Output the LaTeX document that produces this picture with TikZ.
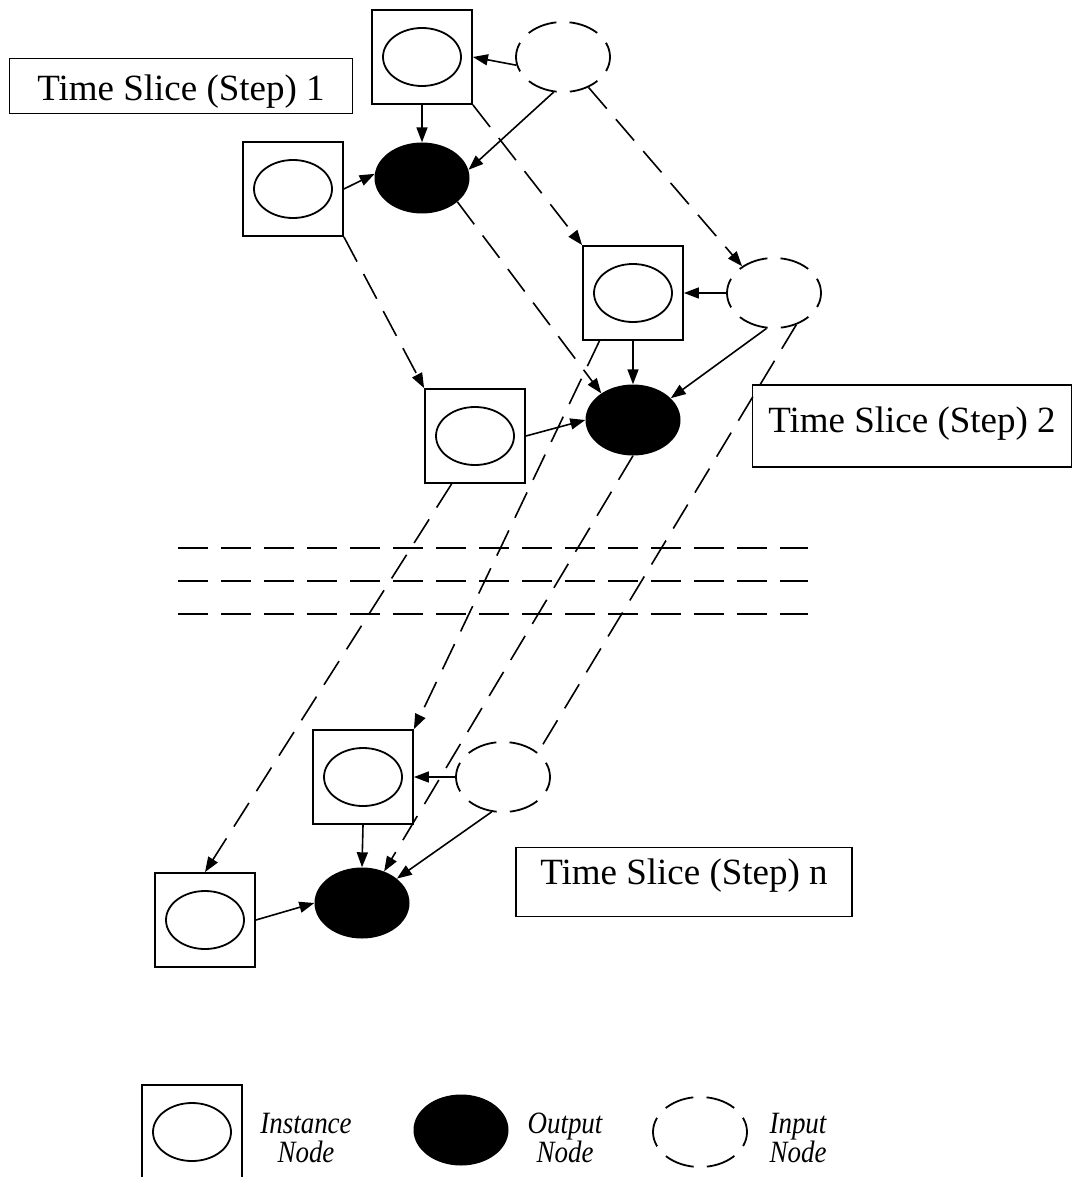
\documentclass[tikz,border=0pt]{standalone}
\usepackage{fontspec}
\setmainfont{Liberation Serif}
\newfontfamily\keyfont[FakeStretch=0.87]{Liberation Serif}
\usetikzlibrary{arrows.meta}
\usetikzlibrary{shapes.geometric}

\begin{document}
\begin{tikzpicture}[x=1pt, y=-1pt, >={Triangle[length=15pt,width=11pt]},
  inst/.style={draw, line width=1.8pt, minimum width=100pt, minimum height=94pt, inner sep=0,
    path picture={\draw[line width=1.8pt] (path picture bounding box.center) ellipse (39pt and 29pt);}},
  outp/.style={ellipse, fill=black, minimum width=95pt, minimum height=71pt, inner sep=0},
  inp/.style={ellipse, draw, line width=1.8pt, dash pattern=on 30pt off 13.2pt, dash phase=15pt,
    minimum width=94pt, minimum height=70pt, inner sep=0},
  slicebox/.style={draw, line width=1.8pt, inner sep=0, font=\fontsize{37}{44}\selectfont},
  legtext/.style={font=\keyfont\fontsize{31}{29}\selectfont\itshape, align=center},
  link/.style={->, line width=1.6pt},
  jump/.style={link, dash pattern=on 28pt off 14pt},
  cutline/.style={line width=1.8pt, dash pattern=on 30pt off 13pt}]
\useasboundingbox (0,0) rectangle (1082,1177);

\node[inst] (insA1) at (422,57) {};
\node[inp] (inp1) at (563,57) {};
\node[outp] (out1) at (422,178) {};
\node[inst] (insB1) at (293,189) {};
\node[slicebox, minimum width=343pt, minimum height=55pt, text height=35pt, text depth=6pt] (slice1) at (181,86) {Time Slice (Step) 1};

\node[inst] (insA2) at (633,293) {};
\node[inp] (inp2) at (774,293) {};
\node[outp] (out2) at (633,420) {};
\node[inst] (insB2) at (475,436) {};
\node[slicebox, minimum width=319pt, minimum height=82pt, text height=25pt, text depth=13pt] (slice2) at (912,426) {Time Slice (Step) 2};

\node[inst] (insAn) at (363,777) {};
\node[inp] (inpn) at (503,777) {};
\node[outp] (outn) at (362,903) {};
\node[inst] (insBn) at (205,920) {};
\node[slicebox, minimum width=336pt, minimum height=69pt, text height=25pt, text depth=20pt] (slicen) at (684,882) {Time Slice (Step) n};

\draw[link] (inp1.190) -- (insA1.east);
\draw[link] (insA1.south) -- (out1.north);
\draw[link] (insB1.east) -- (out1.175);
\draw[link] (inp1.255) -- (out1.10);

\draw[link] (inp2.west) -- (insA2.east);
\draw[link] (insA2.south) -- (out2.north);
\draw[link] (insB2.east) -- (out2.west);
\draw[link] (inp2.258) -- (out2.30);

\draw[link] (inpn.west) -- (insAn.east);
\draw[link] (insAn.south) -- (outn.north);
\draw[link] (insBn.east) -- (outn.west);
\draw[link] (inpn.252) -- (outn.35);

\draw[jump] (insA1.south east) -- (insA2.north west);
\draw[jump] (inp1.-50) -- (inp2.140);
\draw[jump] (out1.-34) -- (out2.140);
\draw[jump] (insB1.south east) -- (insB2.north west);

\draw[jump] (insB2.-116) -- (insBn.north);
\draw[jump] (insA2.-125) -- (insAn.north east);
\draw[jump] (out2.south) -- (outn.55);
\draw[jump, -] (inp2.-55) -- (inpn.35);

\foreach \y in {548,581,614}
  \draw[cutline] (178,\y) -- (808,\y);

\node[inst] (keyIns) at (192,1132) {};
\node[legtext] (keyInsText) at (306,1138) {Instance\\Node};
\node[outp] (keyOut) at (461,1130) {};
\node[legtext] (keyOutText) at (565,1138) {Output\\Node};
\node[inp] (keyInp) at (700,1132) {};
\node[legtext] (keyInpText) at (798,1138) {Input\\Node};
\end{tikzpicture}
\end{document}
